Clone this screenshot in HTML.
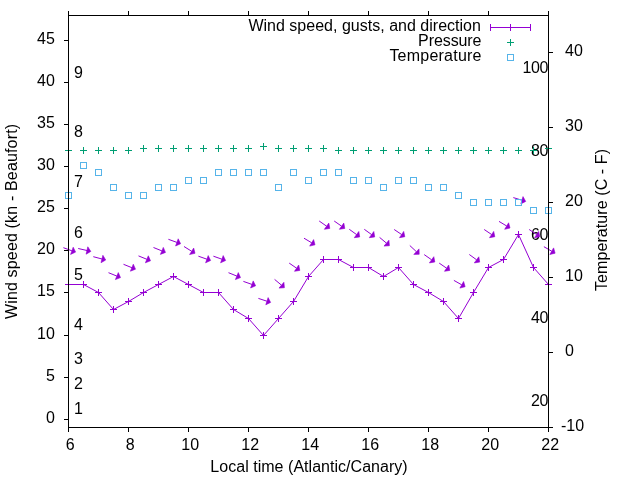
<!DOCTYPE html>
<html><head><meta charset="utf-8"><title>Wind</title><style>html,body{margin:0;padding:0;background:#fff;width:640px;height:480px;overflow:hidden}svg{will-change:transform}</style></head><body>
<svg width="640" height="480" viewBox="0 0 640 480" style="display:block;font-family:'Liberation Sans',sans-serif;font-size:16px">
<rect width="640" height="480" fill="#fff"/>
<g fill="#000">
<text x="74" y="414">1</text>
<text x="74" y="389">2</text>
<text x="74" y="364">3</text>
<text x="74" y="330">4</text>
<text x="74" y="280">5</text>
<text x="74" y="238">6</text>
<text x="74" y="187">7</text>
<text x="74" y="137">8</text>
<text x="74" y="78">9</text>
<text x="548.3" y="72.8" text-anchor="end" textLength="25.9" lengthAdjust="spacing">100</text>
<text x="548.3" y="155.8" text-anchor="end" textLength="17.2" lengthAdjust="spacing">80</text>
<text x="548.3" y="239.8" text-anchor="end" textLength="17.2" lengthAdjust="spacing">60</text>
<text x="548.3" y="322.8" text-anchor="end" textLength="17.2" lengthAdjust="spacing">40</text>
<text x="548.3" y="405.8" text-anchor="end" textLength="17.2" lengthAdjust="spacing">20</text>
</g>
<polyline points="68.5,284.5 83.5,284.5 98.5,292.5 113.5,309.5 128.5,301.5 143.5,292.5 158.5,284.5 173.5,276.5 188.5,284.5 203.5,292.5 218.5,292.5 233.5,309.5 248.5,318.5 263.5,335.5 278.5,318.5 293.5,301.5 308.5,276.5 323.5,259.5 338.5,259.5 353.5,267.5 368.5,267.5 383.5,276.5 398.5,267.5 413.5,284.5 428.5,292.5 443.5,301.5 458.5,318.5 473.5,292.5 488.5,267.5 503.5,259.5 518.5,234.5 533.5,267.5 548.5,284.5" fill="none" stroke="#9400d3" stroke-width="1"/>
<g stroke="#9400d3" shape-rendering="crispEdges">
<path d="M65.0 284.5h7M68.5 281.0v7"/>
<path d="M80.0 284.5h7M83.5 281.0v7"/>
<path d="M95.0 292.5h7M98.5 289.0v7"/>
<path d="M110.0 309.5h7M113.5 306.0v7"/>
<path d="M125.0 301.5h7M128.5 298.0v7"/>
<path d="M140.0 292.5h7M143.5 289.0v7"/>
<path d="M155.0 284.5h7M158.5 281.0v7"/>
<path d="M170.0 276.5h7M173.5 273.0v7"/>
<path d="M185.0 284.5h7M188.5 281.0v7"/>
<path d="M200.0 292.5h7M203.5 289.0v7"/>
<path d="M215.0 292.5h7M218.5 289.0v7"/>
<path d="M230.0 309.5h7M233.5 306.0v7"/>
<path d="M245.0 318.5h7M248.5 315.0v7"/>
<path d="M260.0 335.5h7M263.5 332.0v7"/>
<path d="M275.0 318.5h7M278.5 315.0v7"/>
<path d="M290.0 301.5h7M293.5 298.0v7"/>
<path d="M305.0 276.5h7M308.5 273.0v7"/>
<path d="M320.0 259.5h7M323.5 256.0v7"/>
<path d="M335.0 259.5h7M338.5 256.0v7"/>
<path d="M350.0 267.5h7M353.5 264.0v7"/>
<path d="M365.0 267.5h7M368.5 264.0v7"/>
<path d="M380.0 276.5h7M383.5 273.0v7"/>
<path d="M395.0 267.5h7M398.5 264.0v7"/>
<path d="M410.0 284.5h7M413.5 281.0v7"/>
<path d="M425.0 292.5h7M428.5 289.0v7"/>
<path d="M440.0 301.5h7M443.5 298.0v7"/>
<path d="M455.0 318.5h7M458.5 315.0v7"/>
<path d="M470.0 292.5h7M473.5 289.0v7"/>
<path d="M485.0 267.5h7M488.5 264.0v7"/>
<path d="M500.0 259.5h7M503.5 256.0v7"/>
<path d="M515.0 234.5h7M518.5 231.0v7"/>
<path d="M530.0 267.5h7M533.5 264.0v7"/>
<path d="M545.0 284.5h7M548.5 281.0v7"/>
</g>
<g stroke="#9400d3" fill="#9400d3" stroke-width="1">
<path d="M63.4 247.7L71.9 250.8" fill="none"/><path d="M75.6 252.1L70.6 254.4L73.2 247.2Z" stroke-width="0.6" stroke-linejoin="round"/>
<path d="M78.2 248.5L87.0 250.5" fill="none"/><path d="M90.8 251.4L86.1 254.2L87.8 246.8Z" stroke-width="0.6" stroke-linejoin="round"/>
<path d="M93.3 256.7L102.0 259.0" fill="none"/><path d="M105.7 260.0L101.0 262.7L102.9 255.3Z" stroke-width="0.6" stroke-linejoin="round"/>
<path d="M108.5 272.7L116.9 276.1" fill="none"/><path d="M120.5 277.6L115.4 279.6L118.3 272.6Z" stroke-width="0.6" stroke-linejoin="round"/>
<path d="M123.5 264.3L131.9 267.7" fill="none"/><path d="M135.5 269.2L130.4 271.2L133.3 264.2Z" stroke-width="0.6" stroke-linejoin="round"/>
<path d="M138.5 255.9L146.9 259.3" fill="none"/><path d="M150.5 260.8L145.4 262.8L148.3 255.8Z" stroke-width="0.6" stroke-linejoin="round"/>
<path d="M153.5 247.5L161.9 250.9" fill="none"/><path d="M165.5 252.4L160.4 254.4L163.3 247.4Z" stroke-width="0.6" stroke-linejoin="round"/>
<path d="M168.4 239.3L176.9 242.4" fill="none"/><path d="M180.6 243.7L175.6 246.0L178.2 238.8Z" stroke-width="0.6" stroke-linejoin="round"/>
<path d="M184.0 246.5L191.7 251.3" fill="none"/><path d="M195.0 253.3L189.6 254.5L193.7 248.1Z" stroke-width="0.6" stroke-linejoin="round"/>
<path d="M198.4 256.2L206.9 259.2" fill="none"/><path d="M210.6 260.5L205.6 262.8L208.2 255.6Z" stroke-width="0.6" stroke-linejoin="round"/>
<path d="M213.4 256.2L221.9 259.2" fill="none"/><path d="M225.6 260.5L220.6 262.8L223.2 255.6Z" stroke-width="0.6" stroke-linejoin="round"/>
<path d="M228.5 272.7L236.9 276.1" fill="none"/><path d="M240.5 277.6L235.4 279.6L238.3 272.6Z" stroke-width="0.6" stroke-linejoin="round"/>
<path d="M243.4 281.4L251.9 284.4" fill="none"/><path d="M255.6 285.8L250.6 288.0L253.2 280.9Z" stroke-width="0.6" stroke-linejoin="round"/>
<path d="M258.4 298.4L266.9 301.2" fill="none"/><path d="M270.6 302.4L265.8 304.8L268.1 297.6Z" stroke-width="0.6" stroke-linejoin="round"/>
<path d="M274.6 279.4L281.5 285.2" fill="none"/><path d="M284.4 287.7L279.0 288.1L283.9 282.3Z" stroke-width="0.6" stroke-linejoin="round"/>
<path d="M289.2 263.1L296.6 268.2" fill="none"/><path d="M299.8 270.4L294.5 271.3L298.7 265.0Z" stroke-width="0.6" stroke-linejoin="round"/>
<path d="M304.0 238.2L311.7 242.8" fill="none"/><path d="M315.0 244.8L309.7 246.1L313.6 239.6Z" stroke-width="0.6" stroke-linejoin="round"/>
<path d="M319.2 221.0L326.6 226.2" fill="none"/><path d="M329.8 228.4L324.4 229.3L328.8 223.1Z" stroke-width="0.6" stroke-linejoin="round"/>
<path d="M334.2 221.0L341.6 226.2" fill="none"/><path d="M344.8 228.4L339.4 229.3L343.8 223.1Z" stroke-width="0.6" stroke-linejoin="round"/>
<path d="M349.3 229.3L356.6 234.6" fill="none"/><path d="M359.7 236.9L354.3 237.7L358.8 231.5Z" stroke-width="0.6" stroke-linejoin="round"/>
<path d="M364.3 229.3L371.6 234.6" fill="none"/><path d="M374.7 236.9L369.3 237.7L373.8 231.5Z" stroke-width="0.6" stroke-linejoin="round"/>
<path d="M379.6 237.4L386.5 243.2" fill="none"/><path d="M389.4 245.7L384.0 246.1L388.9 240.2Z" stroke-width="0.6" stroke-linejoin="round"/>
<path d="M394.2 229.5L401.6 234.5" fill="none"/><path d="M404.8 236.7L399.5 237.7L403.7 231.4Z" stroke-width="0.6" stroke-linejoin="round"/>
<path d="M409.8 245.5L416.4 251.7" fill="none"/><path d="M419.2 254.3L413.8 254.4L419.0 248.9Z" stroke-width="0.6" stroke-linejoin="round"/>
<path d="M424.2 254.6L431.6 259.8" fill="none"/><path d="M434.8 262.0L429.4 262.9L433.8 256.7Z" stroke-width="0.6" stroke-linejoin="round"/>
<path d="M439.2 263.1L446.6 268.2" fill="none"/><path d="M449.8 270.4L444.5 271.3L448.7 265.0Z" stroke-width="0.6" stroke-linejoin="round"/>
<path d="M453.9 280.4L461.7 284.8" fill="none"/><path d="M465.1 286.7L459.9 288.1L463.6 281.5Z" stroke-width="0.6" stroke-linejoin="round"/>
<path d="M469.3 254.5L476.6 259.8" fill="none"/><path d="M479.7 262.1L474.3 262.9L478.8 256.8Z" stroke-width="0.6" stroke-linejoin="round"/>
<path d="M484.2 229.5L491.6 234.5" fill="none"/><path d="M494.8 236.7L489.5 237.7L493.7 231.4Z" stroke-width="0.6" stroke-linejoin="round"/>
<path d="M499.0 221.4L506.7 226.0" fill="none"/><path d="M510.0 228.0L504.7 229.3L508.6 222.8Z" stroke-width="0.6" stroke-linejoin="round"/>
<path d="M513.3 197.6L521.9 200.2" fill="none"/><path d="M525.7 201.4L520.8 203.9L523.0 196.6Z" stroke-width="0.6" stroke-linejoin="round"/>
<path d="M529.2 229.5L536.6 234.5" fill="none"/><path d="M539.8 236.7L534.5 237.7L538.7 231.4Z" stroke-width="0.6" stroke-linejoin="round"/>
<path d="M543.9 246.7L551.7 251.2" fill="none"/><path d="M555.1 253.2L549.8 254.5L553.6 247.9Z" stroke-width="0.6" stroke-linejoin="round"/>
</g>
<g stroke="#009e73" shape-rendering="crispEdges">
<path d="M65.0 150.5h7M68.5 147.0v7"/>
<path d="M80.0 150.5h7M83.5 147.0v7"/>
<path d="M95.0 150.5h7M98.5 147.0v7"/>
<path d="M110.0 150.5h7M113.5 147.0v7"/>
<path d="M125.0 150.5h7M128.5 147.0v7"/>
<path d="M140.0 148.5h7M143.5 145.0v7"/>
<path d="M155.0 148.5h7M158.5 145.0v7"/>
<path d="M170.0 148.5h7M173.5 145.0v7"/>
<path d="M185.0 148.5h7M188.5 145.0v7"/>
<path d="M200.0 148.5h7M203.5 145.0v7"/>
<path d="M215.0 148.5h7M218.5 145.0v7"/>
<path d="M230.0 148.5h7M233.5 145.0v7"/>
<path d="M245.0 148.5h7M248.5 145.0v7"/>
<path d="M260.0 146.5h7M263.5 143.0v7"/>
<path d="M275.0 148.5h7M278.5 145.0v7"/>
<path d="M290.0 148.5h7M293.5 145.0v7"/>
<path d="M305.0 148.5h7M308.5 145.0v7"/>
<path d="M320.0 148.5h7M323.5 145.0v7"/>
<path d="M335.0 150.5h7M338.5 147.0v7"/>
<path d="M350.0 150.5h7M353.5 147.0v7"/>
<path d="M365.0 150.5h7M368.5 147.0v7"/>
<path d="M380.0 150.5h7M383.5 147.0v7"/>
<path d="M395.0 150.5h7M398.5 147.0v7"/>
<path d="M410.0 150.5h7M413.5 147.0v7"/>
<path d="M425.0 150.5h7M428.5 147.0v7"/>
<path d="M440.0 150.5h7M443.5 147.0v7"/>
<path d="M455.0 150.5h7M458.5 147.0v7"/>
<path d="M470.0 150.5h7M473.5 147.0v7"/>
<path d="M485.0 150.5h7M488.5 147.0v7"/>
<path d="M500.0 150.5h7M503.5 147.0v7"/>
<path d="M515.0 150.5h7M518.5 147.0v7"/>
<path d="M530.0 150.5h7M533.5 147.0v7"/>
<path d="M545.0 148.5h7M548.5 145.0v7"/>
<path d="M507 42.5h7M510.5 39v7"/>
</g>
<g stroke="#56b4e9" fill="none" shape-rendering="crispEdges">
<rect x="65.5" y="192.5" width="6" height="6"/>
<rect x="80.5" y="162.5" width="6" height="6"/>
<rect x="95.5" y="169.5" width="6" height="6"/>
<rect x="110.5" y="184.5" width="6" height="6"/>
<rect x="125.5" y="192.5" width="6" height="6"/>
<rect x="140.5" y="192.5" width="6" height="6"/>
<rect x="155.5" y="184.5" width="6" height="6"/>
<rect x="170.5" y="184.5" width="6" height="6"/>
<rect x="185.5" y="177.5" width="6" height="6"/>
<rect x="200.5" y="177.5" width="6" height="6"/>
<rect x="215.5" y="169.5" width="6" height="6"/>
<rect x="230.5" y="169.5" width="6" height="6"/>
<rect x="245.5" y="169.5" width="6" height="6"/>
<rect x="260.5" y="169.5" width="6" height="6"/>
<rect x="275.5" y="184.5" width="6" height="6"/>
<rect x="290.5" y="169.5" width="6" height="6"/>
<rect x="305.5" y="177.5" width="6" height="6"/>
<rect x="320.5" y="169.5" width="6" height="6"/>
<rect x="335.5" y="169.5" width="6" height="6"/>
<rect x="350.5" y="177.5" width="6" height="6"/>
<rect x="365.5" y="177.5" width="6" height="6"/>
<rect x="380.5" y="184.5" width="6" height="6"/>
<rect x="395.5" y="177.5" width="6" height="6"/>
<rect x="410.5" y="177.5" width="6" height="6"/>
<rect x="425.5" y="184.5" width="6" height="6"/>
<rect x="440.5" y="184.5" width="6" height="6"/>
<rect x="455.5" y="192.5" width="6" height="6"/>
<rect x="470.5" y="199.5" width="6" height="6"/>
<rect x="485.5" y="199.5" width="6" height="6"/>
<rect x="500.5" y="199.5" width="6" height="6"/>
<rect x="515.5" y="199.5" width="6" height="6"/>
<rect x="530.5" y="207.5" width="6" height="6"/>
<rect x="545.5" y="207.5" width="6" height="6"/>
<rect x="507.5" y="54.5" width="6" height="6"/>
</g>
<g stroke="#9400d3" shape-rendering="crispEdges"><path d="M490 27.5h41M490.5 24v7M510.5 24v7M530.5 24v7"/></g>
<g stroke="#000" stroke-width="1" fill="none" shape-rendering="crispEdges">
<rect x="68.5" y="15.5" width="480" height="412"/>
<path d="M68.5 427.5v4.5M68.5 15.5v-4.5"/>
<path d="M128.5 427.5v4.5M128.5 15.5v-4.5"/>
<path d="M188.5 427.5v4.5M188.5 15.5v-4.5"/>
<path d="M248.5 427.5v4.5M248.5 15.5v-4.5"/>
<path d="M308.5 427.5v4.5M308.5 15.5v-4.5"/>
<path d="M368.5 427.5v4.5M368.5 15.5v-4.5"/>
<path d="M428.5 427.5v4.5M428.5 15.5v-4.5"/>
<path d="M488.5 427.5v4.5M488.5 15.5v-4.5"/>
<path d="M548.5 427.5v4.5M548.5 15.5v-4.5"/>
<path d="M68.5 419.5h-4.5"/>
<path d="M68.5 377.5h-4.5"/>
<path d="M68.5 335.5h-4.5"/>
<path d="M68.5 292.5h-4.5"/>
<path d="M68.5 250.5h-4.5"/>
<path d="M68.5 208.5h-4.5"/>
<path d="M68.5 166.5h-4.5"/>
<path d="M68.5 124.5h-4.5"/>
<path d="M68.5 82.5h-4.5"/>
<path d="M68.5 40.5h-4.5"/>
<path d="M548.5 427.5h4.5"/>
<path d="M548.5 352.5h4.5"/>
<path d="M548.5 277.5h4.5"/>
<path d="M548.5 202.5h4.5"/>
<path d="M548.5 127.5h4.5"/>
<path d="M548.5 52.5h4.5"/>
</g>
<g fill="#000">
<text x="54.8" y="423" text-anchor="end">0</text>
<text x="54.8" y="381" text-anchor="end">5</text>
<text x="54.8" y="339" text-anchor="end">10</text>
<text x="54.8" y="296" text-anchor="end">15</text>
<text x="54.8" y="254" text-anchor="end">20</text>
<text x="54.8" y="212" text-anchor="end">25</text>
<text x="54.8" y="170" text-anchor="end">30</text>
<text x="54.8" y="128" text-anchor="end">35</text>
<text x="54.8" y="86" text-anchor="end">40</text>
<text x="54.8" y="44" text-anchor="end">45</text>
<text x="561" y="431">-10</text>
<text x="565" y="356">0</text>
<text x="565" y="281">10</text>
<text x="565" y="206">20</text>
<text x="565" y="131">30</text>
<text x="565" y="56">40</text>
<text x="70.2" y="450" text-anchor="middle">6</text>
<text x="130.2" y="450" text-anchor="middle">8</text>
<text x="190.2" y="450" text-anchor="middle">10</text>
<text x="250.2" y="450" text-anchor="middle">12</text>
<text x="310.2" y="450" text-anchor="middle">14</text>
<text x="370.2" y="450" text-anchor="middle">16</text>
<text x="430.2" y="450" text-anchor="middle">18</text>
<text x="490.2" y="450" text-anchor="middle">20</text>
<text x="550.2" y="450" text-anchor="middle">22</text>
<text x="480.9" y="31" text-anchor="end" textLength="232.5" lengthAdjust="spacing">Wind speed, gusts, and direction</text>
<text x="481.5" y="46" text-anchor="end" textLength="63.4" lengthAdjust="spacing">Pressure</text>
<text x="481.5" y="61" text-anchor="end" textLength="92.1" lengthAdjust="spacing">Temperature</text>
<text x="309" y="472" text-anchor="middle" textLength="197.4" lengthAdjust="spacing">Local time (Atlantic/Canary)</text>
<text transform="translate(17,221.5) rotate(-90)" text-anchor="middle" textLength="195.2" lengthAdjust="spacing">Wind speed (kn - Beaufort)</text>
<text transform="translate(607,220) rotate(-90)" text-anchor="middle" textLength="142" lengthAdjust="spacing">Temperature (C - F)</text>
</g>
</svg>
</body></html>
